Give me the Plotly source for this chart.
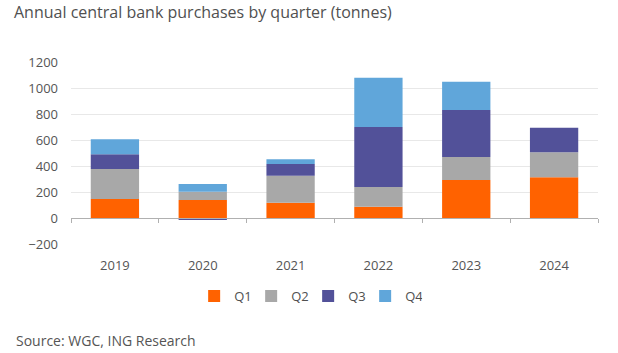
import plotly.graph_objects as go

years = ["2019", "2020", "2021", "2022", "2023", "2024"]
q1 = [146, 138, 118, 87, 292, 313]
q2 = [231, 64, 207, 151, 177, 192]
q3 = [113, -12, 90, 462, 362, 190]
q4 = [115, 60, 37, 379, 218, None]
series_names = ["Q1", "Q2", "Q3", "Q4"]
colors = ["#FF6200", "#A8A8A8", "#525199", "#60A6DA"]
y_ticks = [-200, 0, 200, 400, 600, 800, 1000, 1200]

FONT = "Open Sans"
fig = go.Figure()
for name, vals, col in zip(series_names, [q1, q2, q3, q4], colors):
    fig.add_trace(go.Bar(x=years, y=vals, name=name, marker_color=col,
                         marker_line_width=0))
# invisible trace that carries the year labels on the lower axis
fig.add_trace(go.Scatter(x=years, y=[0] * len(years), xaxis="x2", mode="markers",
                         marker=dict(opacity=0), showlegend=False, hoverinfo="skip"))

fig.update_layout(
    width=618, height=353,
    margin=dict(l=71, r=20, t=62, b=109),
    barmode="relative", bargap=0.45,
    paper_bgcolor="white", plot_bgcolor="white",
    font=dict(family=FONT, color="#555555", size=13),
    title=dict(text="Annual central bank purchases by quarter (tonnes)",
               x=0, xref="container", xanchor="left", y=1, yref="container",
               yanchor="top", pad=dict(l=14, t=7),
               font=dict(family=FONT, size=16, color="#505050")),
    showlegend=True,
    legend=dict(orientation="h", x=0.45, xanchor="center", y=-52 / 182, yanchor="middle",
                yref="paper", font=dict(size=13, color="#505050"),
                itemwidth=30, entrywidth=12, traceorder="normal", itemclick=False),
    xaxis=dict(type="category", anchor="free", position=200 / 1400,
               showline=True, linecolor="#B0B0B0", linewidth=1,
               ticks="outside", tickson="boundaries", ticklen=4, tickcolor="#B0B0B0",
               showticklabels=False, showgrid=False, zeroline=False),
    xaxis2=dict(type="category", overlaying="x", matches="x", anchor="y", side="bottom",
                showline=False, showgrid=False, ticks="", showticklabels=True,
                ticklabelstandoff=12, tickfont=dict(size=13, color="#555555")),
    yaxis=dict(range=[-200, 1200], tickvals=y_ticks, showgrid=True,
               gridcolor="#E8E8E8", gridwidth=1, zeroline=False, showline=False,
               ticks="", ticklabelstandoff=12, tickfont=dict(size=13, color="#555555")),
)
fig.add_annotation(text="Source: WGC, ING Research", xref="paper", yref="paper",
                   x=-57 / 527, xanchor="left", y=-96 / 182, yanchor="middle",
                   showarrow=False, font=dict(family=FONT, size=14, color="#555555"))
fig.write_html("out.html")
